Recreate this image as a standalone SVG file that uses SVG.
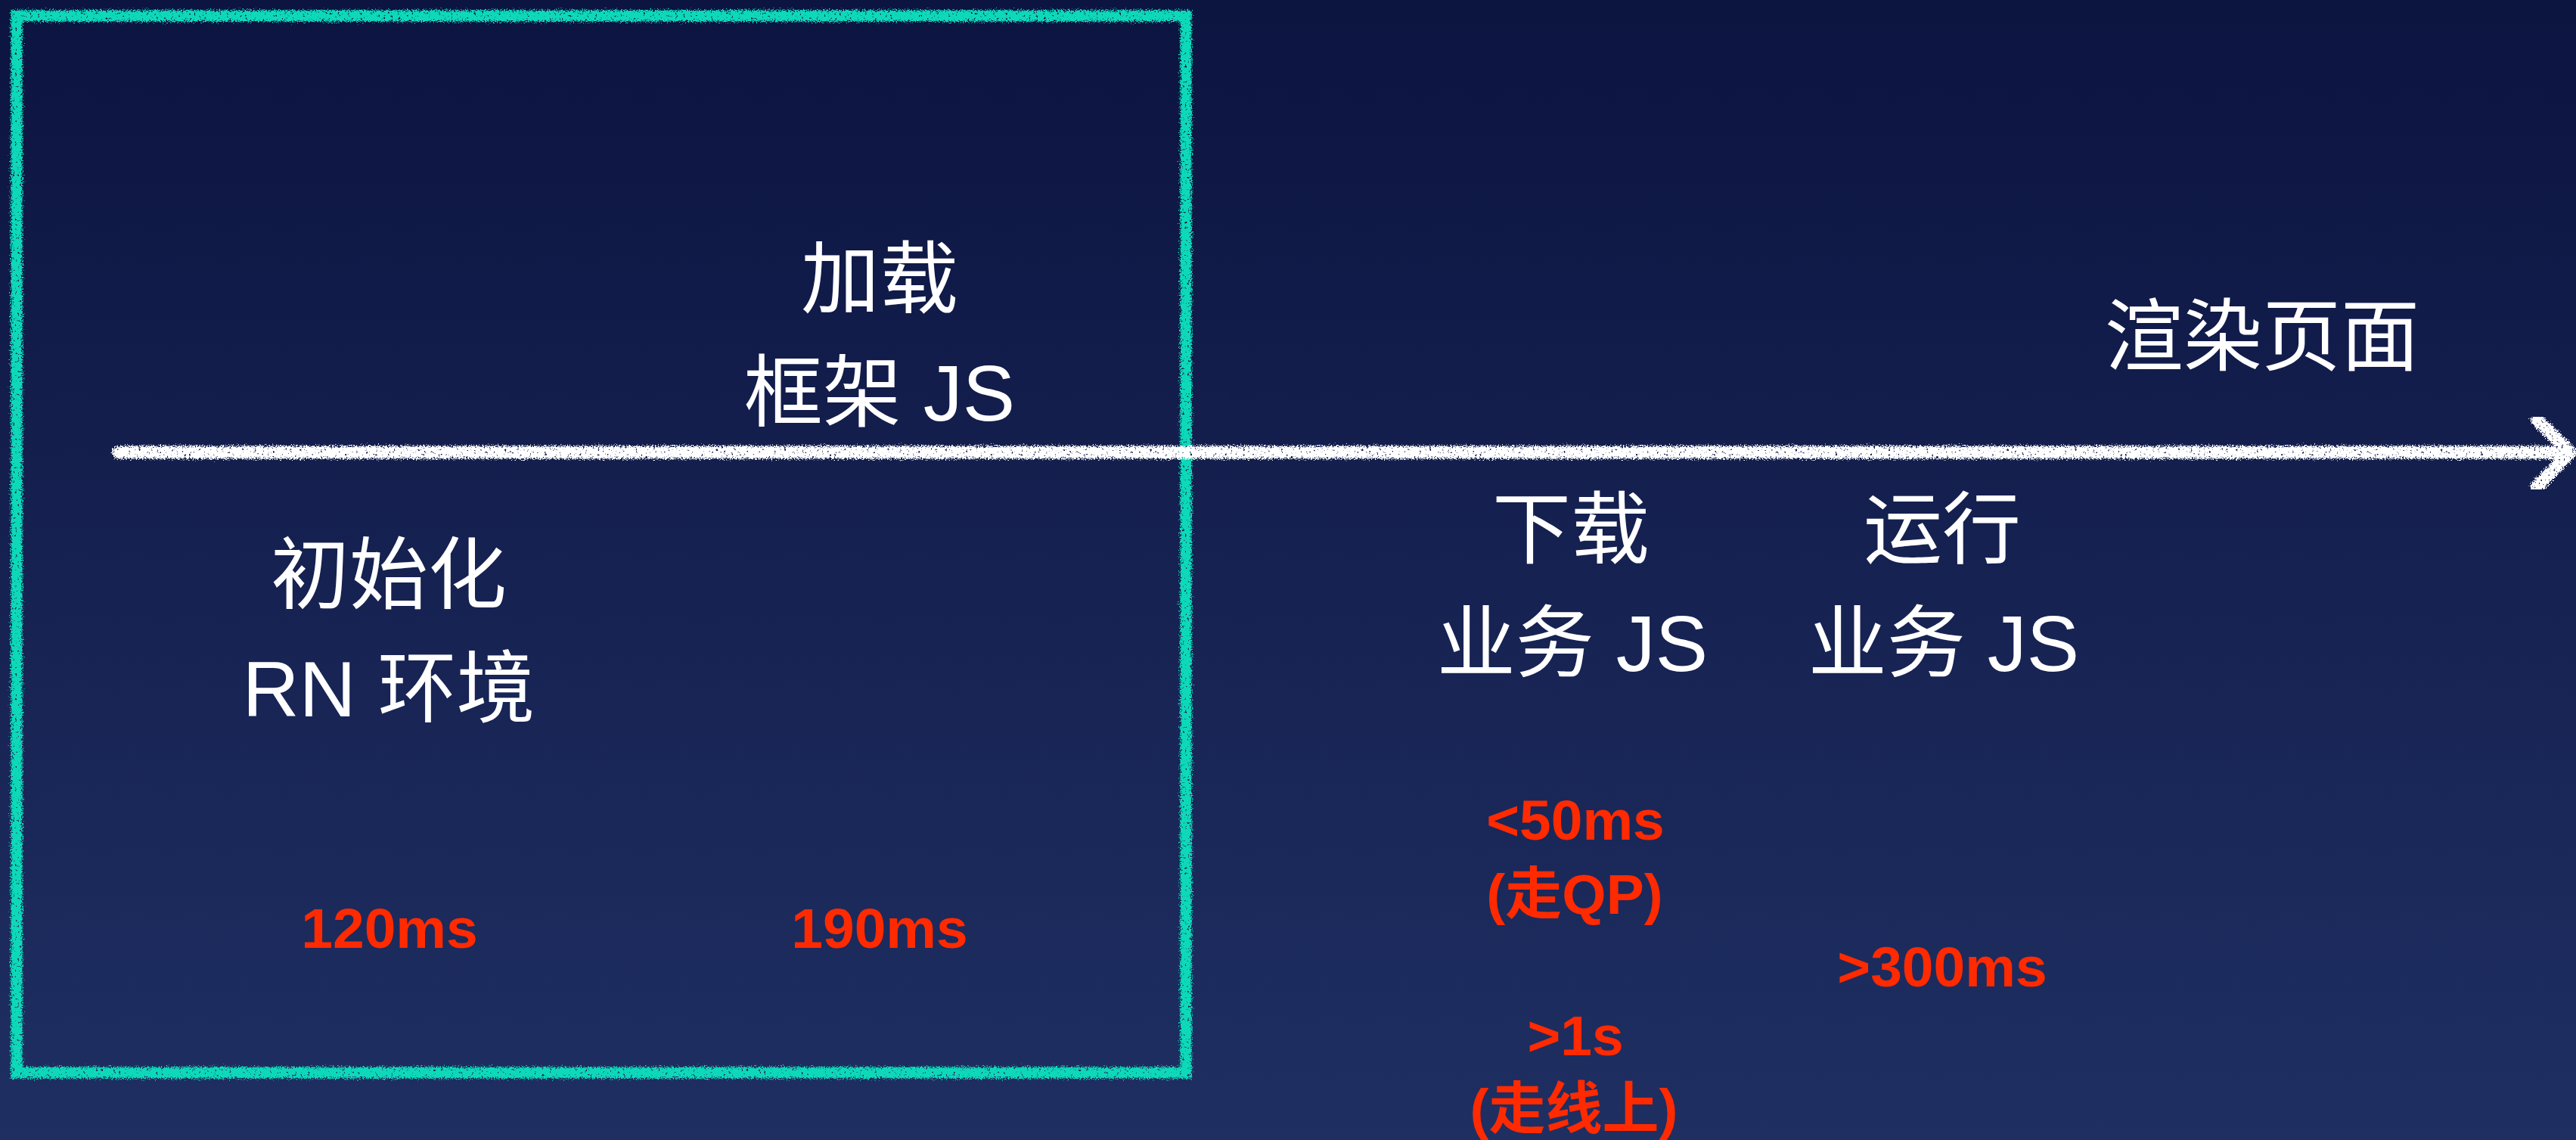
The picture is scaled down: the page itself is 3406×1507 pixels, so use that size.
<svg xmlns="http://www.w3.org/2000/svg" width="3406" height="1507" viewBox="0 0 3406 1507">
<defs>
<linearGradient id="bg" x1="0" y1="0" x2="0" y2="1">
<stop offset="0" stop-color="#0C1440"/>
<stop offset="1" stop-color="#1F2F62"/>
</linearGradient>
<filter id="chalk" x="-3%" y="-3%" width="106%" height="106%">
<feTurbulence type="fractalNoise" baseFrequency="0.6" numOctaves="3" seed="4" result="n"/>
<feDisplacementMap in="SourceGraphic" in2="n" scale="11" xChannelSelector="R" yChannelSelector="G" result="d"/>
<feTurbulence type="fractalNoise" baseFrequency="0.3" numOctaves="2" seed="9" result="n2"/>
<feColorMatrix in="n2" type="matrix" values="0 0 0 0 0  0 0 0 0 0  0 0 0 0 0  0 0 0 -8 6.2" result="m"/>
<feComposite in="d" in2="m" operator="in"/>
</filter>
<style>
.w{font-family:"Liberation Sans","Noto Sans CJK SC",sans-serif;font-size:104px;fill:#FFFFFF;text-anchor:middle}
.r{font-family:"Liberation Sans","Noto Sans CJK SC",sans-serif;font-size:75px;font-weight:bold;fill:#FF2A00;text-anchor:middle}
.box{fill:none;stroke:#0ED9B9;stroke-width:15}
.arr{fill:none;stroke:#FFFFFF;stroke-width:17;stroke-linecap:round;stroke-linejoin:round}
</style>
</defs>
<rect width="3406" height="1507" fill="url(#bg)"/>
<g id="frame-box" filter="url(#chalk)">
<rect class="box" x="22" y="21" width="1546" height="1397"/>
</g>
<g id="connectors" filter="url(#chalk)">
<path class="arr" d="M157 598 L3396 598"/>
<path class="arr" d="M3354 554 L3398 598 L3354 644"/>
</g>
<g id="node-init">
<text class="w" x="514" y="797">初始化</text>
<text class="w" x="514" y="947">RN 环境</text>
<text class="r" x="515" y="1253">120ms</text>
</g>
<g id="node-load">
<text class="w" x="1163" y="406">加载</text>
<text class="w" x="1163" y="556">框架 JS</text>
<text class="r" x="1163" y="1253">190ms</text>
</g>
<g id="node-render">
<text class="w" x="2991" y="482">渲染页面</text>
</g>
<g id="node-download">
<text class="w" x="2077" y="737">下载</text>
<text class="w" x="2079" y="887">业务 JS</text>
<text class="r" x="2083" y="1110">&lt;50ms</text>
<text class="r" x="2082" y="1208">(走QP)</text>
<text class="r" x="2083" y="1395">&gt;1s</text>
<text class="r" x="2081" y="1492">(走线上)</text>
</g>
<g id="node-run">
<text class="w" x="2568" y="737">运行</text>
<text class="w" x="2570" y="887">业务 JS</text>
<text class="r" x="2568" y="1304">&gt;300ms</text>
</g>
</svg>
